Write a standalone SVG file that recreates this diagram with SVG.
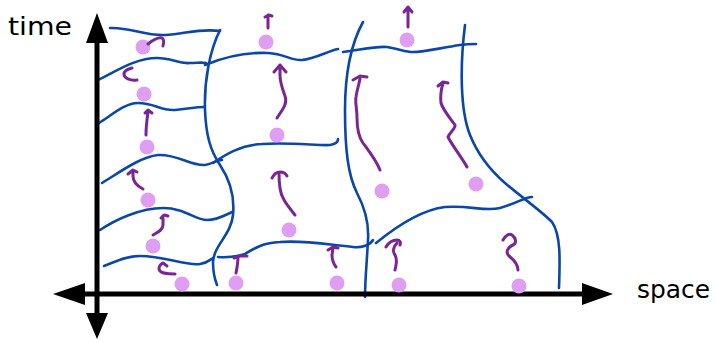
<svg xmlns="http://www.w3.org/2000/svg" width="716" height="343" viewBox="0 0 716 343">
<style>
.ax{stroke:#000;stroke-width:5;fill:none}
.ah{fill:#000;stroke:none}
.b{stroke:#0b47a8;stroke-width:2.6;fill:none;stroke-linecap:round;stroke-linejoin:round}
.p{stroke:#7a2596;stroke-width:3;fill:none;stroke-linecap:round;stroke-linejoin:round}
.d{fill:#df9ef2;stroke:none}
.lbl{font-family:"DejaVu Sans","Liberation Sans",sans-serif;fill:#000}
</style>
<rect width="716" height="343" fill="#fff"/>
<g id="grid">
<path class="b" d="M110,28 C130,27 145,36 165,35 C185,34 200,28 220,31"/>
<path class="b" d="M98,80 C115,72 135,58 157,58 C172,58 178,64 190,63 C197,63 202,62 206,63"/>
<path class="b" d="M99,123 C112,115 125,103 138,103 C155,103 160,111 175,110 C188,109 195,107 204,107"/>
<path class="b" d="M102,183 C120,172 140,157 158,155 C178,154 190,166 205,165 C212,164 216,160 222,160"/>
<path class="b" d="M100,230 C115,220 140,208 163,208 C185,208 195,220 207,220 C218,220 225,215 232,212"/>
<path class="b" d="M104,266 C115,262 125,256 140,256 C165,256 185,266 200,264 C207,263 210,260 213,258"/>
<path class="b" d="M205,65 C222,58 245,52 268,53 C285,54 292,61 302,60 C315,59 328,51 338,49"/>
<path class="b" d="M213,163 C225,155 240,145 262,144 C290,142 320,146 330,145 C336,144 338,142 338,139"/>
<path class="b" d="M218,257 C228,258 238,256 245,254 C255,248 262,243 280,242 C305,240 330,245 353,247 C362,248 370,245 373,240"/>
<path class="b" d="M343,52 C360,50 375,46 387,47 C400,49 405,52 413,52 C425,52 440,48 460,45 C467,44 472,44 476,44"/>
<path class="b" d="M376,243 C392,230 420,210 445,207 C470,205 485,212 500,208 C515,204 525,197 532,197"/>
<path class="b" d="M220,30 C210,50 204,80 205,110 C206,135 210,150 220,165 C230,180 235,195 233,215 C231,235 214,245 213,262 C213,272 215,280 217,285"/>
<path class="b" d="M363,22 C352,42 345,70 345,110 C345,150 348,175 357,193 C366,210 369,225 368,240 C367,260 365,280 365,297"/>
<path class="b" d="M465,25 C460,65 460,110 470,135 C478,155 490,170 505,183 C520,196 540,210 552,222 C561,235 560,260 559,288"/>
</g>
<g id="axes">
<line class="ax" x1="97" y1="40" x2="97" y2="315"/>
<line class="ax" x1="83" y1="294" x2="585" y2="294"/>
<polygon class="ah" points="97,13 86,43 108,43"/>
<polygon class="ah" points="86,313 108,313 97,339"/>
<polygon class="ah" points="53,294 85,283 85,305"/>
<polygon class="ah" points="613,294 582,283 582,305"/>
</g>
<g id="dots">
<circle class="d" cx="143" cy="47" r="7.5"/>
<circle class="d" cx="144" cy="94" r="7.5"/>
<circle class="d" cx="147" cy="147" r="7.5"/>
<circle class="d" cx="148" cy="200" r="7.5"/>
<circle class="d" cx="153" cy="246" r="7.5"/>
<circle class="d" cx="182" cy="284" r="7.5"/>
<circle class="d" cx="266" cy="42" r="7.5"/>
<circle class="d" cx="277" cy="135" r="7.5"/>
<circle class="d" cx="289" cy="230" r="7.5"/>
<circle class="d" cx="236" cy="283" r="7.5"/>
<circle class="d" cx="407" cy="40" r="7.5"/>
<circle class="d" cx="382" cy="191" r="7.5"/>
<circle class="d" cx="337" cy="283" r="7.5"/>
<circle class="d" cx="399" cy="285" r="7.5"/>
<circle class="d" cx="476" cy="184" r="7.5"/>
<circle class="d" cx="519" cy="286" r="7.5"/>
</g>
<g id="arrows">
<path class="p" d="M148,44 C153,40 158,37 162,38 C164,39 164,42 163,46"/>
<path class="p" d="M137,80 C130,81 124,78 124,74 C124,71 128,69 132,68"/>
<path class="p" d="M146,135 C146,127 147,119 148,112 M145,113 L148,110 L152,113"/>
<path class="p" d="M143,189 C137,186 133,181 133,176 L133,171 M128,174 L133,170 L137,172"/>
<path class="p" d="M153,235 C158,232 163,230 163,225 L163,218 M161,218 L164,215 L168,216"/>
<path class="p" d="M175,274 C168,274 160,274 159,269 C159,266 161,264 163,263 L167,266"/>
<path class="p" d="M236,273 C237,268 238,262 238,257 M234,258 L240,256 L247,256"/>
<path class="p" d="M295,215 C287,205 281,198 280,188 C279,182 279,177 279,173 M272,178 C274,174 277,172 280,172 C283,172 286,174 287,176"/>
<path class="p" d="M277,118 C282,110 288,104 285,96 C282,88 280,82 280,75 L280,65 M274,72 L280,65 L286,72"/>
<path class="p" d="M268,28 L268,15 M265,17 L269,15 L272,16"/>
<path class="p" d="M408,27 L408,8 M404,12 L408,7 L412,12"/>
<path class="p" d="M380,170 C376,160 368,150 363,143 C358,136 357,128 357,118 C357,108 355,103 356,97 C357,90 359,84 360,79 M353,80 L360,76 L367,77"/>
<path class="p" d="M467,167 C462,158 452,145 448,137 C450,132 456,128 455,125 C450,118 443,110 441,103 C440,96 441,90 443,83 M438,86 L443,82 L448,83"/>
<path class="p" d="M336,267 C333,263 332,260 332,255 L333,248 M328,250 L333,247 L338,248"/>
<path class="p" d="M395,270 C396,265 398,260 395,255 C392,251 394,246 397,243 M386,247 C389,242 393,240 397,240 C400,240 401,242 400,245"/>
<path class="p" d="M518,270 C518,265 514,260 509,256 C505,252 508,247 513,245 C517,243 516,238 512,235 C509,233 505,236 503,240"/>
</g>
<g id="labels">
<text class="lbl" x="8" y="35" font-size="25" textLength="64" lengthAdjust="spacingAndGlyphs">time</text>
<text class="lbl" x="637" y="298" font-size="24" textLength="73" lengthAdjust="spacingAndGlyphs">space</text>
</g>
</svg>
